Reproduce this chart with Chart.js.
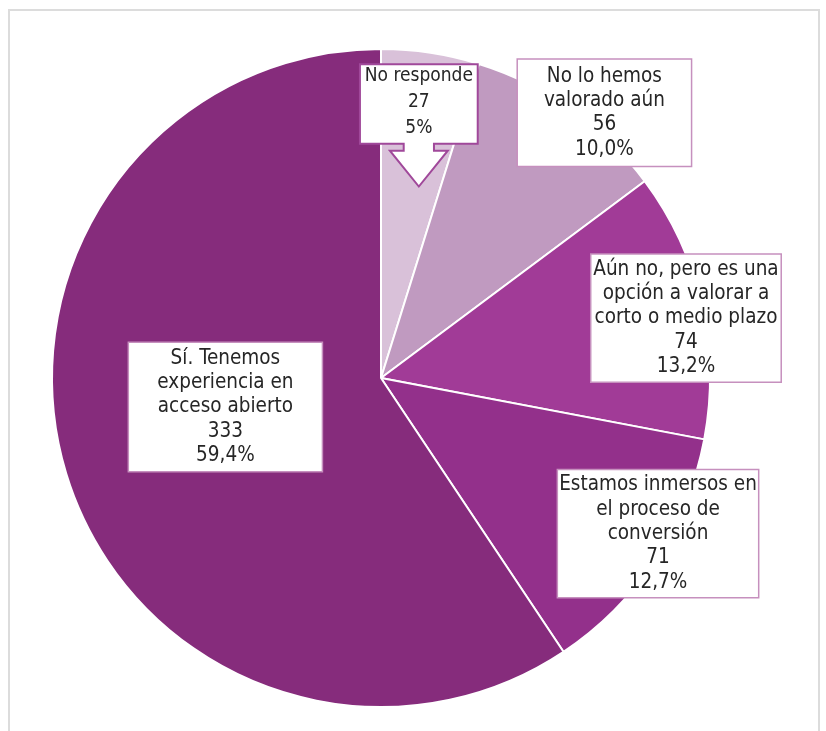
<!DOCTYPE html>
<html>
<head>
<meta charset="utf-8">
<script src="https://cdn.jsdelivr.net/npm/chart.js@4"></script>
<style>
  body { margin: 0; background: #fff; width: 826px; height: 731px; overflow: hidden; position: relative; }
  #frame { position: absolute; left: 8px; top: 9px; width: 812px; height: 740px; border: 2px solid #dcdcdc; box-sizing: border-box; }
  #wrap { position: absolute; left: 0; top: 0; width: 826px; height: 731px; }
</style>
</head>
<body>
<div id="frame"></div>
<div id="wrap"><canvas id="myChart"></canvas></div>
<script>
const categories = [
  'No responde',
  'No lo hemos valorado aún',
  'Aún no, pero es una opción a valorar a corto o medio plazo',
  'Estamos inmersos en el proceso de conversión',
  'Sí. Tenemos experiencia en acceso abierto'
];
const counts = [27, 56, 74, 71, 333];
const percentLabels = ['5%', '10,0%', '13,2%', '12,7%', '59,4%'];
const labelLines = [
  ['No responde'],
  ['No lo hemos', 'valorado aún'],
  ['Aún no, pero es una', 'opción a valorar a', 'corto o medio plazo'],
  ['Estamos inmersos en', 'el proceso de', 'conversión'],
  ['Sí. Tenemos', 'experiencia en', 'acceso abierto']
];
const sliceColors = ['#d9c1d9', '#c09ac0', '#a13b97', '#93308b', '#862c7c'];

// box placement relative to pie centre, in units of radius (centre x, centre y, width, height)
const boxes = [
  { cx: 0.115, cy: -0.833, w: 0.358, h: 0.242, arrow: true, fs: 19, lh: 26 },
  { cx: 0.679, cy: -0.806, w: 0.53, h: 0.327, fs: 20.5, lh: 24.3 },
  { cx: 0.927, cy: -0.182, w: 0.579, h: 0.39, fs: 20.5, lh: 24.3 },
  { cx: 0.842, cy: 0.473, w: 0.612, h: 0.39, fs: 20.5, lh: 24.3 },
  { cx: -0.473, cy: 0.088, w: 0.59, h: 0.394, fs: 20.5, lh: 24.3 }
];

const boxLabels = {
  id: 'boxLabels',
  afterDraw(chart) {
    const ctx = chart.ctx;
    const arc = chart.getDatasetMeta(0).data[0];
    const cx0 = arc.x, cy0 = arc.y, R = arc.outerRadius;
    boxes.forEach((b, i) => {
      const bx = cx0 + b.cx * R, by = cy0 + b.cy * R;
      const w = b.w * R, h = b.h * R;
      const l = bx - w / 2, t = by - h / 2, r = bx + w / 2, bt = by + h / 2;
      ctx.save();
      ctx.fillStyle = '#ffffff';
      ctx.strokeStyle = b.arrow ? '#a0489a' : '#c690be';
      ctx.lineWidth = b.arrow ? 2 : 1.5;
      ctx.beginPath();
      if (b.arrow) {
        const sw = 0.046 * R, hw = 0.088 * R;
        const shaftEnd = bt + 0.021 * R, tip = bt + 0.13 * R;
        ctx.moveTo(l, t); ctx.lineTo(r, t); ctx.lineTo(r, bt);
        ctx.lineTo(bx + sw, bt); ctx.lineTo(bx + sw, shaftEnd); ctx.lineTo(bx + hw, shaftEnd);
        ctx.lineTo(bx, tip);
        ctx.lineTo(bx - hw, shaftEnd); ctx.lineTo(bx - sw, shaftEnd); ctx.lineTo(bx - sw, bt);
        ctx.lineTo(l, bt); ctx.closePath();
      } else {
        ctx.rect(l, t, w, h);
      }
      ctx.fill();
      ctx.stroke();
      const lines = labelLines[i].concat([String(counts[i]), percentLabels[i]]);
      ctx.fillStyle = '#262626';
      ctx.font = b.fs + 'px "DejaVu Sans Condensed", "DejaVu Sans", sans-serif';
      ctx.textAlign = 'center';
      ctx.textBaseline = 'middle';
      const y0 = by - (lines.length - 1) * b.lh / 2 - (b.arrow ? 2 : 0);
      lines.forEach((s, k) => ctx.fillText(s, bx, y0 + k * b.lh));
      ctx.restore();
    });
  }
};

const myChart = new Chart(document.getElementById('myChart'), {
  type: 'pie',
  data: {
    labels: categories,
    datasets: [{
      data: counts,
      backgroundColor: sliceColors,
      borderColor: '#ffffff',
      borderWidth: 2,
      hoverOffset: 0
    }]
  },
  options: {
    animation: false,
    responsive: true,
    maintainAspectRatio: false,
    layout: { padding: { left: 51, top: 48, right: 115, bottom: 23 } },
    plugins: { legend: { display: false }, tooltip: { enabled: false } }
  },
  plugins: [boxLabels]
});
</script>
</body>
</html>
